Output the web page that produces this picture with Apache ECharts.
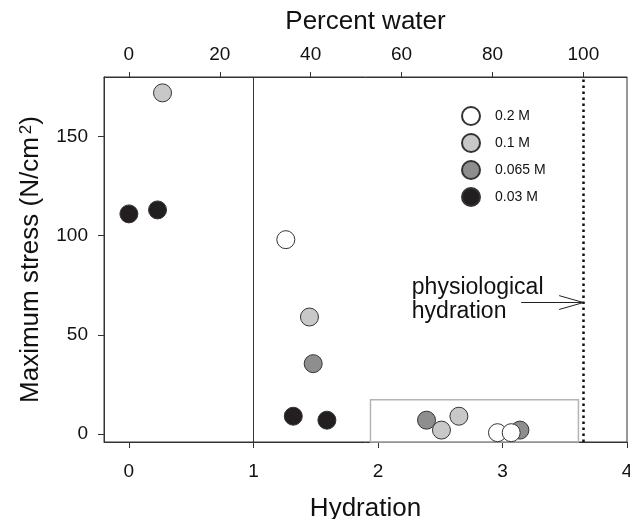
<!DOCTYPE html>
<html lang="en">
<head>
	<meta charset="UTF-8">
	<title>Maximum stress vs hydration</title>
	<script src="https://cdn.jsdelivr.net/npm/echarts@6/dist/echarts.min.js"></script>
	<style>
		body { margin: 0; background: #fff; }
	</style>
</head>
<body>
	<div id="main" style="width:630px;height:519px;"></div>
	<script type="text/javascript">
        // data: [hydration, max stress]
        var names = ['0.2 M', '0.1 M', '0.065 M', '0.03 M'];
        var m02 = [[1.26, 98], [2.96, 0.7], [3.07, 0.7]];
        var m01 = [[0.27, 172], [1.45, 59], [2.51, 2], [2.65, 9]];
        var m0065 = [[1.48, 35.5], [2.39, 7], [3.14, 2]];
        var m003 = [[0, 111], [0.23, 113], [1.32, 9], [1.59, 7]];
        var hydrationTicks = [0, 1, 2, 3, 4];
        var percentTicks = [0, 20, 40, 60, 80, 100];
        var stressTicks = [0, 50, 100, 150];
        var physiological = 3.65;   // hydration at 100% water

        var font = '"Liberation Sans", Arial, sans-serif';
        var ink = '#111';
        var edge = '#333';

        function dots(name, color, data) {
            return {
                name: name,
                type: 'scatter',
                data: data,
                symbolSize: 18,
                itemStyle: { color: color, borderColor: edge, borderWidth: 1, opacity: 1 },
                emphasis: { disabled: true }
            };
        }

        var myChart = echarts.init(document.getElementById('main'));

        var series = [
            dots('0.03 M', '#231f20', m003),
            dots('0.065 M', '#8e8e8e', m0065),
            dots('0.1 M', '#c8c8c8', m01),
            dots('0.2 M', '#ffffff', m02)
        ];
        // reference lines, box and arrow
        series[0].markLine = {
            silent: true,
            symbol: 'none',
            label: { show: false },
            data: [
                { xAxis: 1, lineStyle: { color: edge, width: 1, type: 'solid' } },
                { xAxis: physiological, lineStyle: { color: '#111', width: 2.5, type: [2.5, 3.5] } },
                [{ coord: [3.15, 66.3] }, { coord: [physiological, 66.3] }],
                [{ coord: [3.455, 69.8] }, { coord: [physiological, 66.3] }],
                [{ coord: [3.455, 62.8] }, { coord: [physiological, 66.3] }]
            ],
            lineStyle: { color: '#222', width: 1, type: 'solid' }
        };
        series[0].markArea = {
            silent: true,
            itemStyle: { color: 'rgba(0,0,0,0)', borderColor: '#b4b4b4', borderWidth: 1.5 },
            data: [[{ coord: [1.94, 17.3] }, { coord: [3.61, -4] }]]
        };

        myChart.setOption({
            animation: false,
            textStyle: { fontFamily: font },
            grid: {
                left: 104, right: 3, top: 77, bottom: 77,
                outerBoundsMode: 'none',
                containLabel: false,
                show: true, borderColor: edge, borderWidth: 1
            },
            legend: {
                data: names,
                orient: 'vertical',
                left: 461, top: 106,
                padding: 0,
                itemWidth: 18, itemHeight: 18, itemGap: 7,
                icon: 'circle',
                selectedMode: false,
                textStyle: { fontSize: 14, color: ink, padding: [0, 0, 0, 10] }
            },
            xAxis: [{
                type: 'value',
                position: 'bottom',
                min: -0.2, max: 4,
                name: 'Hydration',
                nameLocation: 'middle',
                nameGap: 54,
                nameTextStyle: { fontSize: 26, color: ink },
                splitLine: { show: false },
                axisLine: { onZero: false, lineStyle: { color: edge } },
                axisTick: { customValues: hydrationTicks, length: 6, lineStyle: { color: edge } },
                axisLabel: { customValues: hydrationTicks, fontSize: 19, color: ink, margin: 20 }
            }, {
                type: 'value',
                position: 'top',
                min: -0.2 * 27.4, max: 4 * 27.4,
                name: 'Percent water',
                nameLocation: 'middle',
                nameGap: 42,
                nameTextStyle: { fontSize: 26, color: ink },
                splitLine: { show: false },
                axisLine: { onZero: false, lineStyle: { color: edge } },
                axisTick: { customValues: percentTicks, length: 5, lineStyle: { color: edge } },
                axisLabel: { customValues: percentTicks, fontSize: 19, color: ink, margin: 13 }
            }],
            yAxis: {
                type: 'value',
                min: -4, max: 180,
                name: '{a|Maximum stress (N/cm}{b|2}{a|)}',
                nameLocation: 'middle',
                nameGap: 60,
                nameTextStyle: {
                    rich: {
                        a: { fontSize: 26, color: ink, fontFamily: font, verticalAlign: 'bottom' },
                        b: { fontSize: 17, color: ink, fontFamily: font, verticalAlign: 'bottom', padding: [0, 0, 9, 3] }
                    }
                },
                splitLine: { show: false },
                axisLine: { show: true, onZero: false, lineStyle: { color: edge } },
                axisTick: { customValues: stressTicks, length: 6, lineStyle: { color: edge } },
                axisLabel: { customValues: stressTicks, fontSize: 19, color: ink, margin: 16 }
            },
            series: series
        });

        // annotation text placed next to the arrow
        var p = myChart.convertToPixel({ xAxisIndex: 0, yAxisIndex: 0 }, [2.28, 66.3]);
        myChart.setOption({
            graphic: [{
                type: 'text',
                left: p[0] - 1, top: p[1] - 27,
                style: {
                    text: 'physiological\nhydration',
                    font: '23px ' + font,
                    fill: ink,
                    lineHeight: 24
                }
            }]
        });
    </script>
</body>
</html>
